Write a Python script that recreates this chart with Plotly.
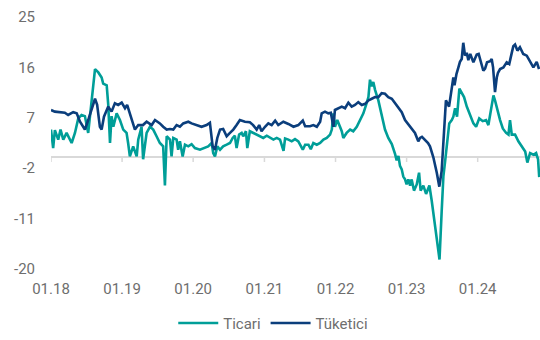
import plotly.graph_objects as go

# Tick labels
x_tick_dates = ["2018-01-01", "2019-01-01", "2020-01-01", "2021-01-01",
                "2022-01-01", "2023-01-01", "2024-01-01"]
x_tick_labels = ["01.18", "01.19", "01.20", "01.21", "01.22", "01.23", "01.24"]
y_tick_values = [-20, -11, -2, 7, 16, 25]
y_tick_labels = ["-20", "-11", "-2", "7", "16", "25"]

# Ticari series
ticari_dates = [
    "2018-01-01", "2018-01-12", "2018-01-21", "2018-02-07", "2018-02-19", "2018-03-05",
    "2018-03-22", "2018-04-17", "2018-05-04", "2018-05-21", "2018-06-07", "2018-06-24",
    "2018-07-11", "2018-07-29", "2018-08-15", "2018-09-01", "2018-09-18", "2018-09-26",
    "2018-10-14", "2018-10-22", "2018-10-31", "2018-11-08", "2018-11-17", "2018-12-04",
    "2018-12-21", "2019-01-07", "2019-01-24", "2019-02-01", "2019-02-10", "2019-02-27",
    "2019-03-17", "2019-03-25", "2019-04-11", "2019-04-19", "2019-05-07", "2019-05-24",
    "2019-06-10", "2019-06-27", "2019-07-14", "2019-07-31", "2019-08-09", "2019-08-18",
    "2019-09-04", "2019-09-12", "2019-09-21", "2019-10-08", "2019-10-16", "2019-10-25",
    "2019-11-08", "2019-11-20", "2019-12-07", "2019-12-24", "2020-01-10", "2020-02-05",
    "2020-03-02", "2020-03-18", "2020-04-05", "2020-04-13", "2020-04-22", "2020-05-04",
    "2020-05-18", "2020-06-03", "2020-06-21", "2020-07-08", "2020-07-22", "2020-08-02",
    "2020-08-11", "2020-08-24", "2020-09-06", "2020-09-14", "2020-09-28", "2020-10-05",
    "2020-10-18", "2020-11-04", "2020-11-22", "2020-12-09", "2020-12-26", "2021-01-13",
    "2021-01-30", "2021-02-16", "2021-03-05", "2021-03-22", "2021-04-09", "2021-04-17",
    "2021-05-04", "2021-05-21", "2021-06-07", "2021-06-24", "2021-07-17", "2021-07-29",
    "2021-08-15", "2021-08-27", "2021-09-09", "2021-09-27", "2021-10-14", "2021-10-31",
    "2021-11-17", "2021-12-04", "2021-12-13", "2021-12-21", "2021-12-29", "2022-01-10",
    "2022-01-24", "2022-02-02", "2022-02-10", "2022-02-27", "2022-03-17", "2022-04-02",
    "2022-04-20", "2022-05-07", "2022-05-24", "2022-06-07", "2022-06-19", "2022-06-27",
    "2022-07-06", "2022-07-14", "2022-07-23", "2022-08-09", "2022-08-26", "2022-09-12",
    "2022-09-29", "2022-10-17", "2022-11-03", "2022-11-11", "2022-11-20", "2022-11-28",
    "2022-12-07", "2022-12-15", "2022-12-24", "2023-01-01", "2023-01-10", "2023-01-19",
    "2023-01-27", "2023-02-08", "2023-02-22", "2023-03-06", "2023-03-14", "2023-03-28",
    "2023-04-11", "2023-04-28", "2023-05-10", "2023-05-27", "2023-06-19", "2023-06-30",
    "2023-07-09", "2023-07-17", "2023-07-26", "2023-08-08", "2023-08-21", "2023-08-29",
    "2023-09-07", "2023-09-17", "2023-09-29", "2023-10-11", "2023-10-23", "2023-11-06",
    "2023-11-23", "2023-12-10", "2023-12-24", "2024-01-09", "2024-01-27", "2024-02-13",
    "2024-02-25", "2024-03-05", "2024-03-13", "2024-03-22", "2024-03-30", "2024-04-11",
    "2024-04-25", "2024-05-09", "2024-05-26", "2024-06-07", "2024-06-15", "2024-06-24",
    "2024-07-11", "2024-07-28", "2024-08-14", "2024-09-01", "2024-09-12", "2024-09-26",
    "2024-10-13", "2024-10-27", "2024-11-06", "2024-11-12",
]
ticari_values = [
    4.9, 1.6, 4.8, 3.1, 4.9, 3.1,
    4.3, 2.5, 4.3, 6.9, 7.5, 7.3,
    4.3, 10.1, 15.7, 15.1, 14.2, 13.1,
    12.8, 9.3, 2.5, 7.3, 5.4, 7.8,
    6.6, 4.9, 4.3, 2.5, 0.1, 1.9,
    0.1, 3.1, 5.4, -0.4, 4.3, 5.4,
    4.9, 3.7, 2.5, 1.9, -5.1, 3.7,
    3.1, 0.1, 3.4, 3.1, 1.3, 2.8,
    0.1, 2.2, 1.9, 2.3, 1.6, 1.3,
    1.6, 1.9, 2.5, 0.7, 0.1, 1.9,
    1.3, 1.9, 2.2, 2.5, 3.4, 3.8,
    1.6, 4.0, 4.3, 3.7, 4.6, 1.6,
    4.6, 4.3, 4.0, 3.7, 3.4, 3.8,
    3.4, 3.1, 3.4, 3.1, 1.1, 3.3,
    3.1, 2.8, 3.2, 2.8, 1.3, 2.2,
    2.2, 1.4, 2.5, 2.2, 2.5, 3.1,
    3.4, 4.0, 4.9, 7.8, 5.4, 6.6,
    5.4, 4.6, 3.4, 4.3, 4.9, 4.6,
    5.4, 6.6, 7.8, 9.3, 10.7, 13.8,
    12.6, 13.4, 12.0, 10.1, 7.2, 4.9,
    3.4, 2.3, 0.5, -0.6, 0.2, -1.6,
    -2.2, -3.5, -4.0, -4.9, -4.0, -5.1,
    -4.0, -6.0, -4.9, -2.8, -6.0, -5.1,
    -6.6, -5.1, -7.8, -12.2, -18.3, -9.8,
    -3.4, -1.0, 1.5, 6.0, 6.6, 7.2,
    8.7, 7.2, 12.2, 11.3, 10.7, 9.0,
    7.5, 6.0, 5.4, 6.9, 6.4, 6.6,
    5.7, 7.5, 9.6, 11.0, 10.1, 8.4,
    6.6, 5.1, 4.3, 4.0, 6.6, 4.0,
    4.0, 2.8, 1.9, 1.0, -1.0, 0.7,
    0.4, 0.7, -0.4, -3.6,
]

# Tüketici series
tuketici_dates = [
    "2018-01-01", "2018-01-21", "2018-03-13", "2018-03-30", "2018-04-25", "2018-05-13",
    "2018-05-30", "2018-06-24", "2018-07-11", "2018-07-29", "2018-08-15", "2018-08-26",
    "2018-09-09", "2018-09-18", "2018-09-30", "2018-10-22", "2018-11-08", "2018-11-25",
    "2018-12-12", "2018-12-30", "2019-01-16", "2019-01-27", "2019-02-14", "2019-03-08",
    "2019-03-25", "2019-04-18", "2019-05-07", "2019-06-02", "2019-06-19", "2019-07-14",
    "2019-07-31", "2019-08-18", "2019-09-04", "2019-09-21", "2019-10-08", "2019-10-25",
    "2019-11-11", "2019-12-07", "2019-12-24", "2020-01-19", "2020-02-13", "2020-03-10",
    "2020-03-27", "2020-04-10", "2020-04-22", "2020-05-04", "2020-05-18", "2020-06-03",
    "2020-06-21", "2020-07-08", "2020-07-25", "2020-08-11", "2020-08-28", "2020-09-23",
    "2020-10-18", "2020-11-04", "2020-11-22", "2020-12-05", "2020-12-17", "2021-01-04",
    "2021-01-21", "2021-02-07", "2021-02-25", "2021-03-13", "2021-04-08", "2021-05-04",
    "2021-05-30", "2021-06-24", "2021-07-17", "2021-07-29", "2021-08-23", "2021-09-09",
    "2021-09-27", "2021-10-14", "2021-10-22", "2021-11-08", "2021-11-25", "2021-12-08",
    "2021-12-21", "2021-12-29", "2022-01-16", "2022-02-02", "2022-02-19", "2022-03-08",
    "2022-03-25", "2022-04-11", "2022-04-28", "2022-05-16", "2022-06-02", "2022-06-19",
    "2022-07-06", "2022-07-23", "2022-08-09", "2022-08-26", "2022-09-12", "2022-09-29",
    "2022-10-17", "2022-11-03", "2022-11-20", "2022-12-07", "2022-12-24", "2023-01-19",
    "2023-02-13", "2023-03-02", "2023-03-11", "2023-03-21", "2023-04-06", "2023-04-21",
    "2023-05-01", "2023-05-18", "2023-06-05", "2023-06-18", "2023-06-30", "2023-07-09",
    "2023-07-22", "2023-08-07", "2023-08-21", "2023-08-29", "2023-09-04", "2023-09-14",
    "2023-09-24", "2023-10-02", "2023-10-11", "2023-10-19", "2023-10-28", "2023-11-06",
    "2023-11-14", "2023-11-24", "2023-12-10", "2023-12-27", "2024-01-06", "2024-01-22",
    "2024-01-30", "2024-02-08", "2024-02-18", "2024-03-05", "2024-03-13", "2024-03-20",
    "2024-03-30", "2024-04-08", "2024-04-14", "2024-04-25", "2024-05-12", "2024-05-29",
    "2024-06-11", "2024-06-24", "2024-07-02", "2024-07-11", "2024-07-23", "2024-08-05",
    "2024-08-22", "2024-09-09", "2024-09-26", "2024-10-13", "2024-10-30", "2024-11-11",
]
tuketici_values = [
    8.4, 8.1, 7.9, 7.5, 8.0, 7.8,
    6.3, 4.9, 6.6, 8.7, 10.4, 9.3,
    5.4, 4.9, 7.2, 9.0, 8.1, 9.6,
    9.3, 9.7, 8.7, 9.3, 7.5, 4.9,
    5.7, 5.7, 6.3, 5.7, 6.6, 6.0,
    5.4, 4.9, 5.0, 4.9, 5.7, 5.4,
    6.0, 6.3, 6.0, 5.7, 5.4, 5.7,
    6.1, 1.9, 1.3, 3.4, 4.9, 5.0,
    3.7, 4.3, 4.9, 5.7, 6.6, 6.3,
    6.2, 5.7, 4.9, 5.7, 4.6, 5.4,
    6.0, 5.7, 6.5, 5.7, 6.3, 5.9,
    5.4, 5.7, 6.5, 5.5, 5.5, 5.7,
    5.4, 6.3, 7.8, 8.1, 7.8, 7.9,
    5.4, 8.4, 8.7, 9.0, 8.7, 9.7,
    9.0, 9.3, 9.8, 9.3, 9.5, 10.1,
    10.4, 10.7, 10.7, 11.4, 11.3, 10.7,
    10.4, 9.6, 8.7, 8.0, 6.6, 5.4,
    4.3, 2.8, 3.4, 3.6, 3.1, 2.5,
    1.9, 0.0, -2.8, -5.3, -2.5, 2.5,
    10.1, 9.0, 13.0, 14.2, 12.8, 14.8,
    16.0, 17.0, 17.5, 20.4, 18.1, 18.6,
    17.3, 18.4, 16.9, 18.3, 18.4, 16.3,
    15.4, 15.8, 16.9, 17.1, 17.5, 16.0,
    11.6, 14.2, 15.0, 15.7, 16.0, 16.9,
    16.6, 18.6, 19.8, 20.1, 19.0, 19.6,
    18.4, 18.1, 17.0, 16.0, 17.0, 15.7,
]

TEAL = "#009E98"
NAVY = "#0B3E7C"
GRID = "#d9d9d9"
TEXT = "#6e6e6e"
FONT = "Roboto, 'Open Sans', sans-serif"

fig = go.Figure()
fig.add_trace(go.Scatter(x=ticari_dates, y=ticari_values, mode="lines", name="Ticari",
                         line=dict(color=TEAL, width=2.6)))
fig.add_trace(go.Scatter(x=tuketici_dates, y=tuketici_values, mode="lines", name="Tüketici",
                         line=dict(color=NAVY, width=2.6)))

# Small tick marks hanging from the zero line
for d in x_tick_dates:
    fig.add_shape(type="line", xref="x", yref="y", x0=d, x1=d,
                  ysizemode="pixel", yanchor=0, y0=0, y1=-5,
                  line=dict(color=GRID, width=1.5), layer="below")

fig.update_layout(
    width=540, height=340,
    margin=dict(l=51, r=0, t=17, b=69),
    paper_bgcolor="white", plot_bgcolor="white",
    font=dict(family=FONT, size=15, color=TEXT),
    showlegend=True,
    legend=dict(orientation="h", x=0.25, xanchor="left", y=-0.15, yanchor="top",
                font=dict(size=15, color=TEXT), itemwidth=40, traceorder="normal"),
    xaxis=dict(type="date", range=["2018-01-01", "2024-11-16"],
               tickvals=x_tick_dates, ticktext=x_tick_labels,
               showgrid=False, zeroline=False, showline=False, automargin=False,
               ticks="outside", ticklen=6, tickcolor="rgba(0,0,0,0)",
               tickfont=dict(size=15, color=TEXT)),
    yaxis=dict(range=[-20, 25], tickvals=y_tick_values, ticktext=y_tick_labels,
               showgrid=False, showline=False, automargin=False,
               zeroline=True, zerolinecolor=GRID, zerolinewidth=1.5,
               ticks="outside", ticklen=12, tickcolor="rgba(0,0,0,0)",
               tickfont=dict(size=15, color=TEXT)),
)

fig.write_html("out.html", config={"displayModeBar": False},
               post_script="document.body.style.margin='0';")
